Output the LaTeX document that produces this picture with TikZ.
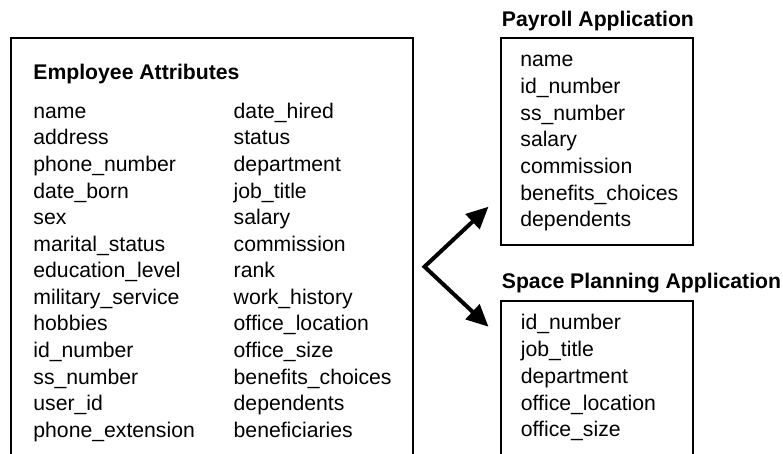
\documentclass[tikz,border=0pt]{standalone}
\usepackage{fontspec}
\setmainfont{Liberation Sans}
\usepackage{tikz}
\usetikzlibrary{positioning,%
  arrows.meta%
}

\newcommand{\attrsize}{\fontsize{10.6}{13.3}\selectfont}

\tikzset{
  attr/.style={anchor=base west, inner sep=0pt, font=\attrsize},
  heading/.style={attr, font=\attrsize\bfseries},
  tablebox/.style={draw=black, line width=1.1pt},
  forkarrow/.style={line width=2pt,
    {Triangle[length=11pt,width=10pt]}-{Triangle[length=11pt,width=10pt]}}
}

\begin{document}
\begin{tikzpicture}[x=0.5pt,y=-0.5pt]
  \path[use as bounding box, clip] (0,0) rectangle (783,454);

  % employee attributes (box runs off the bottom)
  \draw[tablebox] (11,470) |- (413,38) -- (413,470);
  \node[heading] (emphead) at (33,79.3) {Employee Attributes};
  \foreach \a [count=\i] in {name,address,phone\_number,date\_born,sex,%
      marital\_status,education\_level,military\_service,hobbies,%
      id\_number,ss\_number,user\_id,phone\_extension}
    \node[attr] (empa-\i) at (33,{118.3+26.58*(\i-1)}) {\a};
  \foreach \a [count=\i] in {date\_hired,status,department,job\_title,%
      salary,commission,rank,work\_history,office\_location,office\_size,%
      benefits\_choices,dependents,beneficiaries}
    \node[attr] (empb-\i) at (233.3,{118.3+26.58*(\i-1)}) {\a};

  % payroll
  \node[heading] (payhead) at (501.5,26.7) {Payroll Application};
  \draw[tablebox] (500.7,38.3) rectangle (693.3,245);
  \foreach \a [count=\i] in {name,id\_number,ss\_number,salary,%
      commission,benefits\_choices,dependents}
    \node[attr] (pay-\i) at (520,{66.7+26.67*(\i-1)}) {\a};

  % space planning (box runs off the bottom)
  \node[heading] (spacehead) at (501.5,288.3) {Space Planning Application};
  \draw[tablebox] (500.7,470) |- (693.3,301) -- (693.3,470);
  \foreach \a [count=\i] in {id\_number,job\_title,department,%
      office\_location,office\_size}
    \node[attr] (space-\i) at (520.5,{330+26.67*(\i-1)}) {\a};

  % the split
  \coordinate (fork) at (424.5,266.7);
  \coordinate (paytip) at (488.5,206.7);
  \coordinate (spacetip) at (488.5,326.7);
  \draw[forkarrow] (paytip) -- (fork) -- (spacetip);
\end{tikzpicture}
\end{document}
